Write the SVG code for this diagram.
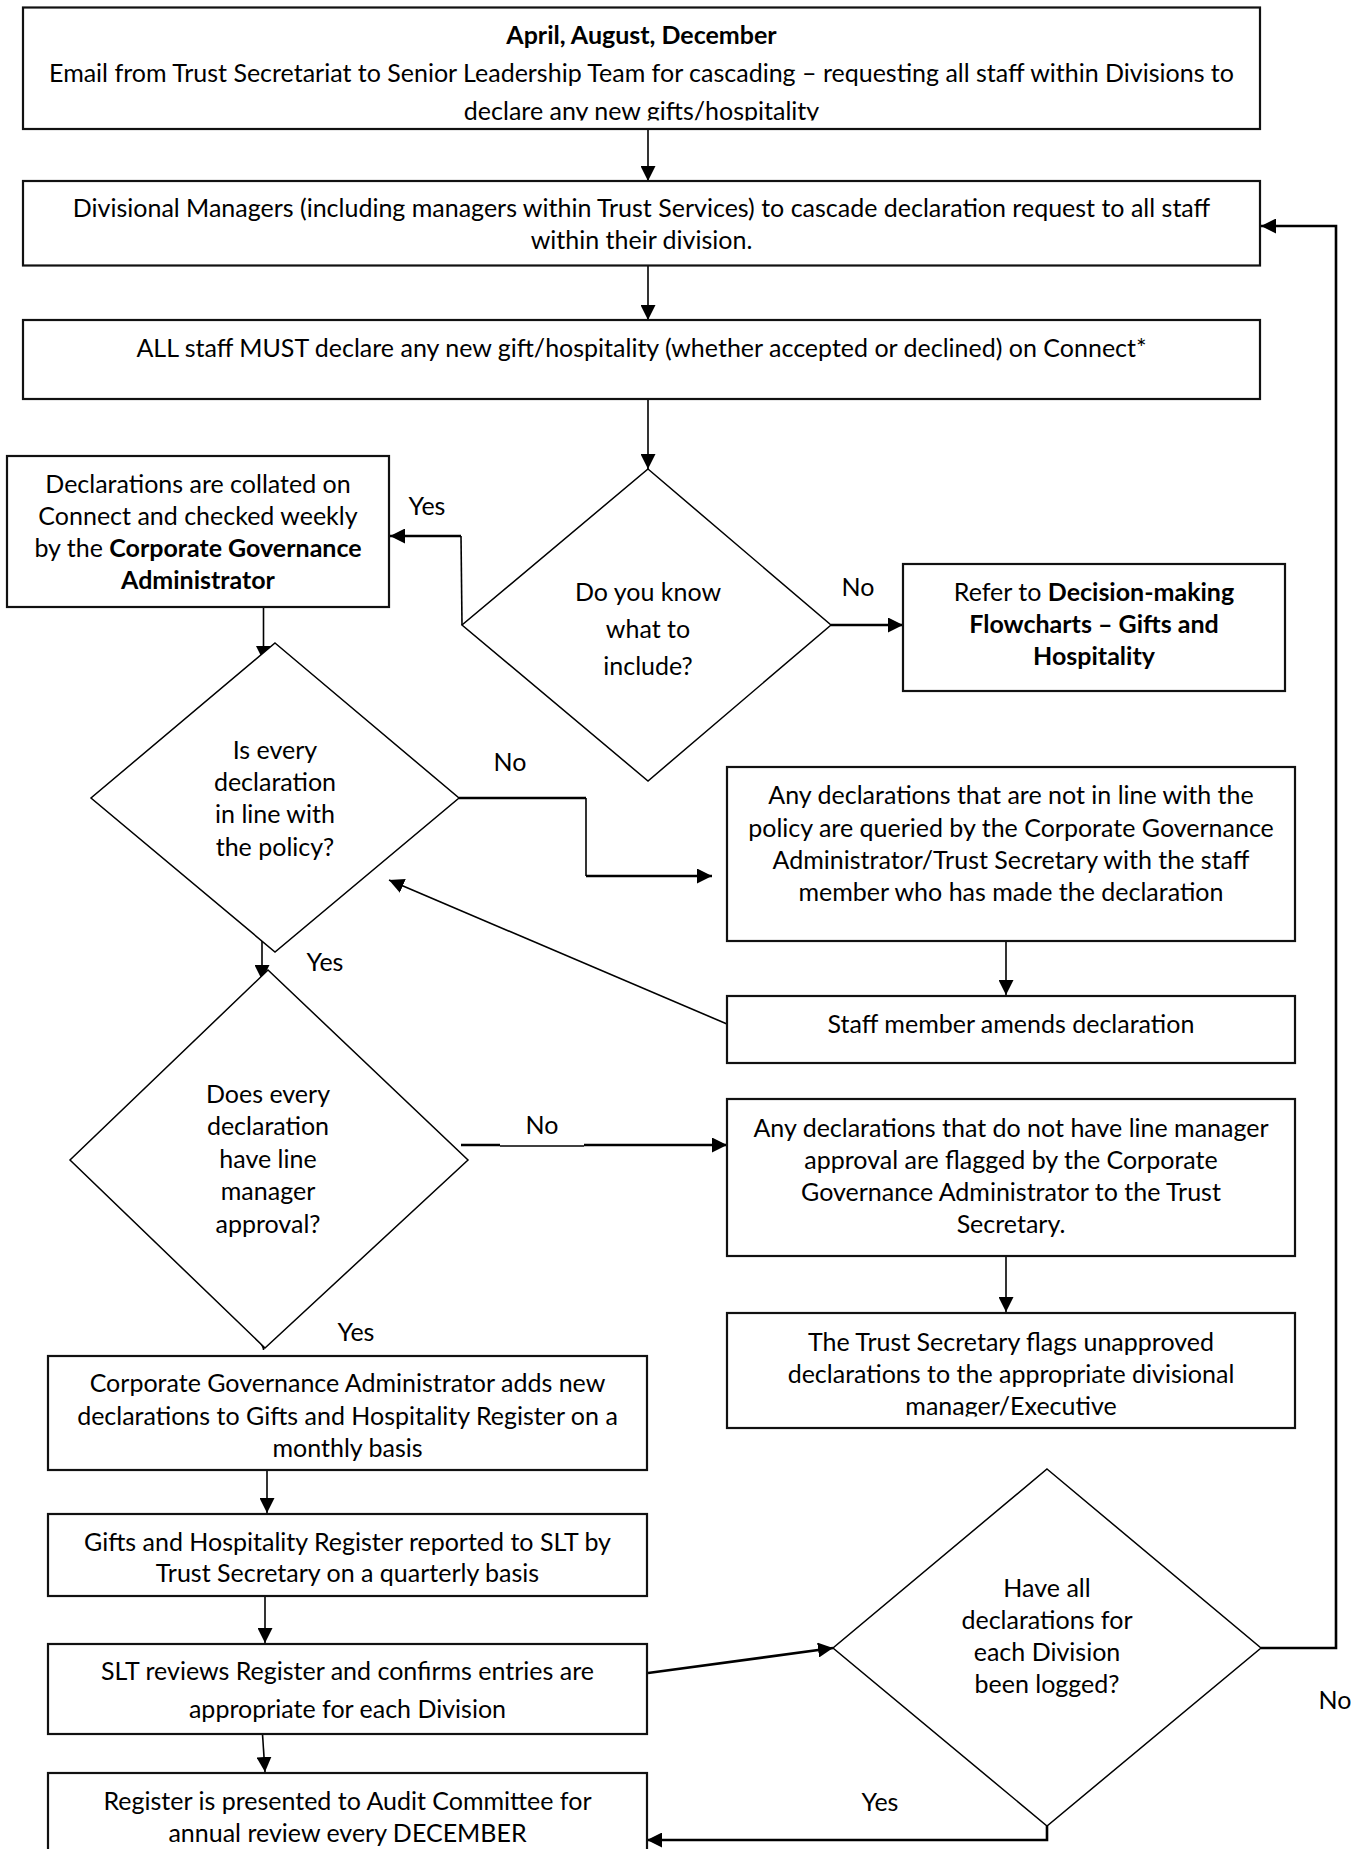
<svg xmlns="http://www.w3.org/2000/svg" width="1361" height="1849" viewBox="0 0 1361 1849">
<style>
.bx{fill:#fff;stroke:#111;stroke-width:2.2}
.dm{fill:#fff;stroke:#000;stroke-width:1.5}
.t{font-family:Lato,"Liberation Sans",sans-serif;font-size:25px;text-anchor:middle;fill:#000}
.b{font-weight:bold}
.ln{fill:none;stroke:#000;stroke-width:1.6}
.tk{fill:none;stroke:#000;stroke-width:2.6}
.ar{marker-end:url(#ah)}
</style>
<defs>
<marker id="ah" markerUnits="userSpaceOnUse" markerWidth="16" markerHeight="15" refX="15" refY="7.5" orient="auto">
<path d="M0,0 L15,7.5 L0,15 z" fill="#000"/>
</marker>
<clipPath id="clip1"><rect x="0" y="0" width="1361" height="120.5"/></clipPath>
<clipPath id="clip2"><rect x="0" y="1300" width="1361" height="116.5"/></clipPath>
</defs>

<g id="connectors">
<path class="ln ar" d="M648,129 V181"/>
<path class="ln ar" d="M648,265.5 V320"/>
<path class="ln ar" d="M648,399 V469"/>
<path class="ln" d="M462,625 L461,536"/>
<path class="tk ar" d="M461,536 H390"/>
<path class="tk ar" d="M831,625 H903"/>
<path class="ln ar" d="M263.5,607 V661"/>
<path class="tk" d="M459,798 H586"/>
<path class="ln" d="M586,798 V876"/>
<path class="tk ar" d="M586,876 H712"/>
<path class="ln ar" d="M1006,941 V995"/>
<path class="ln ar" d="M727,1024 L389,880"/>
<path class="ln ar" d="M262,940 V980"/>
<path class="tk" d="M461,1145 H500"/>
<path class="ln" d="M500,1146 H584"/>
<path class="tk ar" d="M584,1145 H727"/>
<path class="ln ar" d="M1006,1256 V1312"/>
<path class="ln ar" d="M263.5,1322 V1350"/>
<path class="ln ar" d="M267,1470 V1513"/>
<path class="ln ar" d="M265,1596 V1643"/>
<path class="ln ar" d="M262.5,1734 L265,1772"/>
<path class="tk ar" d="M648,1673 L833,1648"/>
<path class="tk ar" d="M1261,1648 H1336 V226 H1261"/>
<path class="tk ar" d="M1047,1826 V1840 H647"/>
</g>

<g id="labels">
<text class="t" x="427" y="515">Yes</text>
<text class="t" x="858" y="596">No</text>
<text class="t" x="510" y="771">No</text>
<text class="t" x="325" y="971">Yes</text>
<text class="t" x="542" y="1134">No</text>
<text class="t" x="356" y="1341">Yes</text>
<text class="t" x="1335" y="1709">No</text>
<text class="t" x="880" y="1811">Yes</text>
</g>

<g id="n1">
<rect class="bx" x="23" y="7.5" width="1237" height="121.5"/>
<text class="t b" x="641.5" y="44">April, August, December</text>
<text class="t" x="641.5" y="82">Email from Trust Secretariat to Senior Leadership Team for cascading – requesting all staff within Divisions to</text>
<text class="t" x="641.5" y="119.5" clip-path="url(#clip1)">declare any new gifts/hospitality</text>
</g>

<g id="n2">
<rect class="bx" x="23" y="181" width="1237" height="84.5"/>
<text class="t" x="641.5" y="217">Divisional Managers (including managers within Trust Services) to cascade declaration request to all staff</text>
<text class="t" x="641.5" y="249">within their division.</text>
</g>

<g id="n3">
<rect class="bx" x="23" y="320" width="1237" height="79"/>
<text class="t" x="641.5" y="357">ALL staff MUST declare any new gift/hospitality (whether accepted or declined) on Connect*</text>
</g>

<g id="n4">
<rect class="bx" x="7" y="456" width="382" height="151"/>
<text class="t" x="198" y="493">Declarations are collated on</text>
<text class="t" x="198" y="525">Connect and checked weekly</text>
<text class="t" x="198" y="557">by the <tspan class="b">Corporate Governance</tspan></text>
<text class="t b" x="198" y="589">Administrator</text>
</g>

<g id="d1">
<polygon class="dm" points="648,469 831,625 648,781 462,625"/>
<text class="t" x="648" y="601">Do you know</text>
<text class="t" x="648" y="638">what to</text>
<text class="t" x="648" y="675">include?</text>
</g>

<g id="n5">
<rect class="bx" x="903" y="564" width="382" height="127"/>
<text class="t" x="1094" y="601">Refer to <tspan class="b">Decision-making</tspan></text>
<text class="t b" x="1094" y="633">Flowcharts – Gifts and</text>
<text class="t b" x="1094" y="665">Hospitality</text>
</g>

<g id="d2">
<polygon class="dm" points="275,643 459,798 275,952 91,798"/>
<text class="t" x="275" y="759">Is every</text>
<text class="t" x="275" y="791">declaration</text>
<text class="t" x="275" y="823">in line with</text>
<text class="t" x="275" y="856">the policy?</text>
</g>

<g id="n6">
<rect class="bx" x="727" y="767" width="568" height="174"/>
<text class="t" x="1011" y="804">Any declarations that are not in line with the</text>
<text class="t" x="1011" y="837">policy are queried by the Corporate Governance</text>
<text class="t" x="1011" y="869">Administrator/Trust Secretary with the staff</text>
<text class="t" x="1011" y="901">member who has made the declaration</text>
</g>

<g id="n7">
<rect class="bx" x="727" y="996" width="568" height="67"/>
<text class="t" x="1011" y="1033">Staff member amends declaration</text>
</g>

<g id="d3">
<polygon class="dm" points="268,970 468,1160 265,1348 70,1160"/>
<text class="t" x="268" y="1103">Does every</text>
<text class="t" x="268" y="1135">declaration</text>
<text class="t" x="268" y="1168">have line</text>
<text class="t" x="268" y="1200">manager</text>
<text class="t" x="268" y="1233">approval?</text>
</g>

<g id="n8">
<rect class="bx" x="727" y="1099" width="568" height="157"/>
<text class="t" x="1011" y="1137">Any declarations that do not have line manager</text>
<text class="t" x="1011" y="1169">approval are flagged by the Corporate</text>
<text class="t" x="1011" y="1201">Governance Administrator to the Trust</text>
<text class="t" x="1011" y="1233">Secretary.</text>
</g>

<g id="n9">
<rect class="bx" x="727" y="1313" width="568" height="115"/>
<text class="t" x="1011" y="1351">The Trust Secretary flags unapproved</text>
<text class="t" x="1011" y="1383">declarations to the appropriate divisional</text>
<text class="t" x="1011" y="1415" clip-path="url(#clip2)">manager/Executive</text>
</g>

<g id="n10">
<rect class="bx" x="48" y="1356" width="599" height="114"/>
<text class="t" x="347.5" y="1392">Corporate Governance Administrator adds new</text>
<text class="t" x="347.5" y="1425">declarations to Gifts and Hospitality Register on a</text>
<text class="t" x="347.5" y="1457">monthly basis</text>
</g>

<g id="n11">
<rect class="bx" x="48" y="1514" width="599" height="82"/>
<text class="t" x="347.5" y="1551">Gifts and Hospitality Register reported to SLT by</text>
<text class="t" x="347.5" y="1582">Trust Secretary on a quarterly basis</text>
</g>

<g id="n12">
<rect class="bx" x="48" y="1644" width="599" height="90"/>
<text class="t" x="347.5" y="1680">SLT reviews Register and confirms entries are</text>
<text class="t" x="347.5" y="1718">appropriate for each Division</text>
</g>

<g id="n13">
<rect class="bx" x="48" y="1773" width="599" height="100"/>
<text class="t" x="347.5" y="1810">Register is presented to Audit Committee for</text>
<text class="t" x="347.5" y="1842">annual review every DECEMBER</text>
</g>

<g id="d4">
<polygon class="dm" points="1047,1469 1261,1648 1047,1826 833,1648"/>
<text class="t" x="1047" y="1597">Have all</text>
<text class="t" x="1047" y="1629">declarations for</text>
<text class="t" x="1047" y="1661">each Division</text>
<text class="t" x="1047" y="1693">been logged?</text>
</g>
</svg>
